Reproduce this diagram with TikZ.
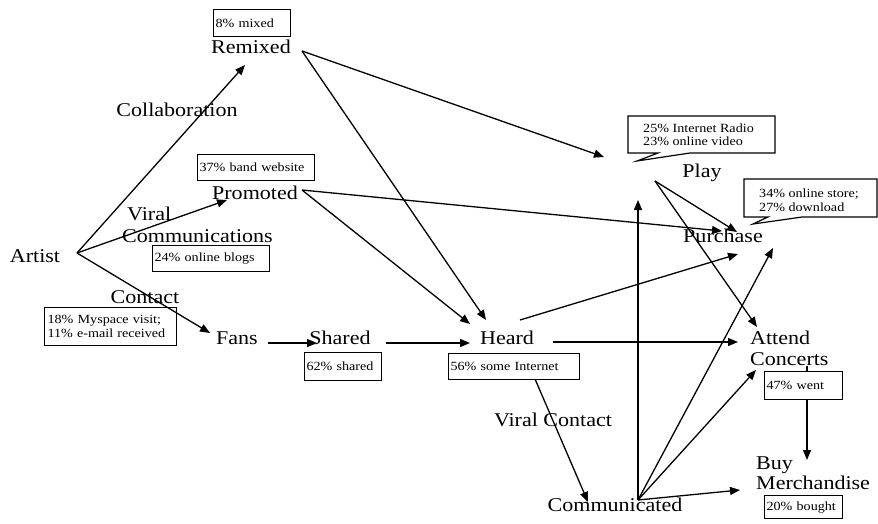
\documentclass[tikz,border=0pt]{standalone}
\usepackage{fontspec}
\setmainfont{Liberation Serif}[FakeStretch=1.13]
\usetikzlibrary{arrows.meta}
\begin{document}
\begin{tikzpicture}[x=1pt,y=-1pt,
  lbl/.style={inner sep=0pt, font=\fontsize{19.5}{21}\selectfont},
  stat/.style={draw, line width=1.2pt, anchor=north west, inner xsep=2pt,
    inner ysep=0pt, align=left, font=\fontsize{12.5}{14}\selectfont},
  note/.style={inner sep=0pt, align=left, anchor=west, font=\fontsize{12.5}{13.5}\selectfont},
  link/.style={line width=1.3pt, -{Triangle[length=10pt,width=8pt]}},
  plain/.style={line width=1.3pt},
  callout/.style={draw, line width=1.2pt, line join=miter}
]
\useasboundingbox (0,0) rectangle (878,524);

% stage labels
\node[lbl, anchor=base] (artist)   at (35,262)  {Artist};
\node[lbl, anchor=base] (remixed)  at (251,54)  {Remixed};
\node[lbl, anchor=base] (collab)   at (177,117) {Collaboration};
\node[lbl, anchor=base] (promoted) at (255,199) {Promoted};
\node[lbl, align=left, anchor=west, font=\fontsize{19.5}{22}\selectfont] (viral)
  at (122,224.4) {\hspace*{5pt}Viral\\Communications};
\node[lbl, anchor=base] (contact)  at (145,303) {Contact};
\node[lbl, anchor=base] (fans)     at (237,344) {Fans};
\node[lbl, anchor=base] (shared)   at (340,344) {Shared};
\node[lbl, anchor=base] (heard)    at (507,344) {Heard};
\node[lbl, anchor=base] (viralc)   at (553,426) {Viral Contact};
\node[lbl, anchor=base] (comm)     at (615,511) {Communicated};
\node[lbl, anchor=base] (play)     at (702,177) {Play};
\node[lbl, anchor=base] (purchase) at (723,242) {Purchase};
\node[lbl, align=left, anchor=west] (attend) at (750,348.4) {Attend\\Concerts};
\node[lbl, align=left, anchor=west, font=\fontsize{19.5}{20}\selectfont] (buy)
  at (756,473.5) {Buy\\Merchandise};

% percentage boxes
\node[stat, text width=73pt,  minimum height=27pt] (mix)       at (213,9)   {8\% mixed};
\node[stat, text width=113pt, minimum height=26pt] (band)      at (197,154) {37\% band website};
\node[stat, text width=113pt, minimum height=26pt] (blogs)     at (152,245) {24\% online blogs};
\node[stat, text width=126pt, minimum height=38pt, inner xsep=3pt] (myspace) at (44,307)
  {18\% Myspace visit;\\11\% e-mail received};
\node[stat, text width=73pt,  minimum height=28pt] (sharedpct) at (304,352) {62\% shared};
\node[stat, text width=127pt, minimum height=26pt] (internet)  at (448,353) {56\% some Internet};
\node[stat, text width=74pt,  minimum height=28pt] (went)      at (764,371) {47\% went};
\node[stat, text width=74pt,  minimum height=23pt] (bought)    at (764,495) {20\% bought};

% callouts
\draw[callout] (628,116) -- (775,116) -- (775,153) -- (690,153) -- (637,161)
  -- (658,153) -- (628,153) -- cycle;
\node[note] (radio) at (643,134.8) {25\% Internet Radio\\23\% online video};
\draw[callout] (744,179) -- (877,179) -- (877,217) -- (802,217) -- (753,224)
  -- (768,217) -- (744,217) -- cycle;
\node[note] (store) at (759,200.3) {34\% online store;\\27\% download};

% connector ports
\coordinate (artOut)   at (77,253);
\coordinate (remIn)    at (245,65);
\coordinate (proIn)    at (227,200);
\coordinate (fanIn)    at (210,333);
\coordinate (fanOut)   at (268,343);
\coordinate (shaIn)    at (317,343);
\coordinate (shaOut)   at (386,343);
\coordinate (heaIn)    at (470,343);
\coordinate (remOut)   at (302,51);
\coordinate (heaInR)   at (486,320);
\coordinate (playDrop) at (604,157);
\coordinate (proOut)   at (302,190);
\coordinate (heaInP)   at (470,324);
\coordinate (purInP)   at (722,231);
\coordinate (heaOutUp) at (520,320);
\coordinate (purInH)   at (738,254);
\coordinate (heaOut)   at (553,342);
\coordinate (attInH)   at (738,342);
\coordinate (intOut)   at (535,379);
\coordinate (comIn)    at (588,502);
\coordinate (comOut)   at (638,500);
\coordinate (upTip)    at (638,200);
\coordinate (purInC)   at (773,248);
\coordinate (attInC)   at (756,370);
\coordinate (buyInC)   at (740,490);
\coordinate (playOut)  at (655,181);
\coordinate (purInY)   at (737,232);
\coordinate (attInY)   at (757,327);
\coordinate (conTick)  at (807,366);
\coordinate (wentTop)  at (807,371);
\coordinate (wentOut)  at (807,399);
\coordinate (buyIn)    at (807,460);

% connectors
\draw[link] (artOut) -- (remIn);
\draw[link] (artOut) -- (proIn);
\draw[link] (artOut) -- (fanIn);
\draw[link] (fanOut) -- (shaIn);
\draw[link] (shaOut) -- (heaIn);
\draw[link] (remOut) -- (heaInR);
\draw[link] (remOut) -- (playDrop);
\draw[link] (proOut) -- (heaInP);
\draw[link] (proOut) -- (purInP);
\draw[link] (heaOutUp) -- (purInH);
\draw[link] (heaOut) -- (attInH);
\draw[link] (intOut) -- (comIn);
\draw[link] (comOut) -- (upTip);
\draw[link] (comOut) -- (purInC);
\draw[link] (comOut) -- (attInC);
\draw[link] (comOut) -- (buyInC);
\draw[link] (playOut) -- (purInY);
\draw[link] (playOut) -- (attInY);
\draw[plain] (conTick) -- (wentTop);
\draw[link] (wentOut) -- (buyIn);
\end{tikzpicture}
\end{document}
